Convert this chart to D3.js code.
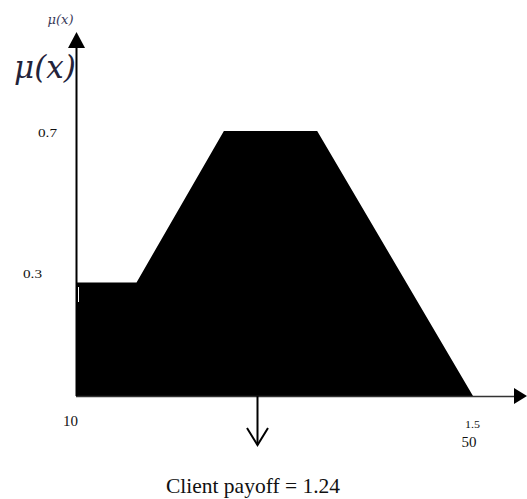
<!DOCTYPE html>
<html>
<head>
<meta charset="utf-8">
<script src="https://cdn.jsdelivr.net/npm/d3@7"></script>
<style>
  body { margin: 0; background: #fff; }
  svg { display: block; }
  text { font-family: "Liberation Serif", "Times New Roman", serif; fill: #111; }
  .mu { font-family: "DejaVu Serif", "Liberation Serif", serif; font-style: italic; }
</style>
</head>
<body>
<svg width="527" height="499"></svg>
<script>
// membership function corners (x in 10..50, mu in 0..1)
var shapeX = [10, 10, 16.1, 24.9, 34.3, 50];
var shapeY = [0, 0.3, 0.3, 0.7, 0.7, 0];
var yTicks = [0.3, 0.7];
var xTickLabels = ["10", "50"];
var xTickValues = [10, 50];
var payoffAt = 28.2;
var payoffLabel = "Client payoff = 1.24";

var svg = d3.select("svg");

var x = d3.scaleLinear().domain([10, 50]).range([76, 473]);
var y = d3.scaleLinear().domain([0, 0.7]).range([396, 131]);

var pts = shapeX.map(function(d, i) { return [d, shapeY[i]]; });

var area = d3.line()
    .x(function(d) { return x(d[0]); })
    .y(function(d) { return y(d[1]); });

svg.append("path")
    .attr("d", area(pts) + "Z")
    .attr("fill", "#000");

// little white mark near left edge
svg.append("line")
    .attr("x1", 78.5).attr("x2", 78.5)
    .attr("y1", 287).attr("y2", 302)
    .attr("stroke", "#fff").attr("stroke-width", 1);

// x axis with arrow
svg.append("line")
    .attr("x1", x(10)).attr("x2", 516)
    .attr("y1", y(0) + 0.5).attr("y2", y(0) + 0.5)
    .attr("stroke", "#333").attr("stroke-width", 1.3);
svg.append("path")
    .attr("d", "M514,388 L527,396 L514,404 Z")
    .attr("fill", "#000");

// y axis with arrow
svg.append("line")
    .attr("x1", 76.5).attr("x2", 76.5)
    .attr("y1", y(0)).attr("y2", 46)
    .attr("stroke", "#000").attr("stroke-width", 2);
svg.append("path")
    .attr("d", "M68,48 L76.5,32 L85,48 Z")
    .attr("fill", "#000");

// y tick labels
var ylabX = {0.3: 23, 0.7: 38};
svg.selectAll(".ylab")
    .data(yTicks)
    .enter().append("text")
    .attr("class", "ylab")
    .attr("x", function(d) { return ylabX[d]; })
    .attr("y", function(d) { return y(d) + (d === 0.7 ? 6 : -4); })
    .attr("font-size", 13)
    .attr("textLength", 19)
    .attr("lengthAdjust", "spacingAndGlyphs")
    .text(function(d) { return d; });

// x tick labels
svg.append("text")
    .attr("x", 70.5).attr("y", 426)
    .attr("text-anchor", "middle")
    .attr("font-size", 15)
    .text(xTickLabels[0]);
svg.append("text")
    .attr("x", x(xTickValues[1]) - 8).attr("y", 428)
    .attr("font-size", 11)
    .attr("textLength", 15)
    .attr("lengthAdjust", "spacingAndGlyphs")
    .text("1.5");
svg.append("text")
    .attr("x", x(xTickValues[1]) - 4).attr("y", 447)
    .attr("text-anchor", "middle")
    .attr("font-size", 15)
    .text(xTickLabels[1]);

// mu(x) labels
svg.append("text")
    .attr("class", "mu")
    .attr("x", 45).attr("y", 78)
    .attr("text-anchor", "middle")
    .attr("font-size", 31)
    .style("fill", "#23233a")
    .text("\u03bc(x)");
svg.append("text")
    .attr("class", "mu")
    .attr("x", 60.5).attr("y", 23.5)
    .attr("text-anchor", "middle")
    .attr("font-size", 13)
    .style("fill", "#3a3a5a")
    .text("\u03bc(x)");

// payoff arrow
var px = Math.round(x(payoffAt)) + 0.5;
svg.append("line")
    .attr("x1", px).attr("x2", px)
    .attr("y1", y(0)).attr("y2", 445)
    .attr("stroke", "#000").attr("stroke-width", 2);
svg.append("path")
    .attr("d", "M" + (px - 10.5) + ",428 L" + px + ",445 L" + (px + 10.5) + ",428")
    .attr("fill", "none").attr("stroke", "#000").attr("stroke-width", 2);

svg.append("text")
    .attr("x", 253).attr("y", 493)
    .attr("text-anchor", "middle")
    .attr("font-size", 21.5)
    .text(payoffLabel);
</script>
</body>
</html>
